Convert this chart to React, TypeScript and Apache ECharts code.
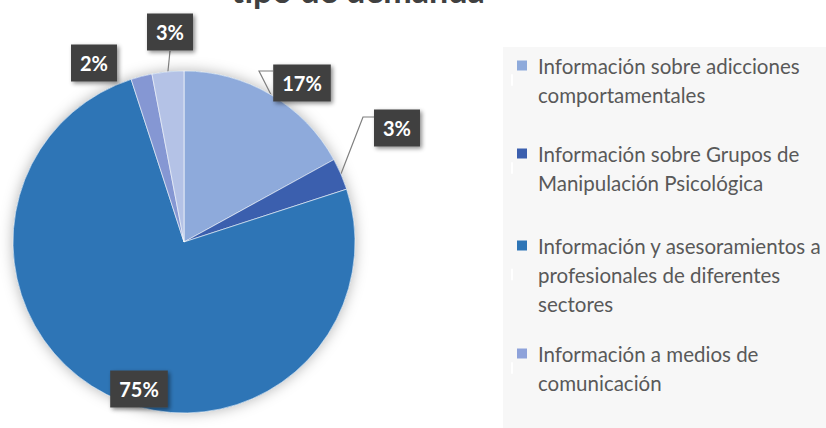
import React, { useEffect, useRef } from "react";
import * as echarts from "echarts";

const titleText = "tipo de demanda";
const categories = [
  "Información sobre adicciones comportamentales",
  "Información sobre Grupos de Manipulación Psicológica",
  "Información y asesoramientos a profesionales de diferentes sectores",
  "Información a medios de comunicación",
  "Otros",
];
const values = [17, 3, 75, 2, 3];
const legendLines = [
  ["Información sobre adicciones", "comportamentales"],
  ["Información sobre Grupos de", "Manipulación Psicológica"],
  ["Información y asesoramientos a", "profesionales de diferentes", "sectores"],
  ["Información a medios de", "comunicación"],
];
const sliceColors = ["#8eaadb", "#3b5fae", "#2e75b6", "#8597d3", "#b4c2e6"];
const legendColors = ["#8eaadb", "#3b5fae", "#2e75b6", "#8ea2da"];

// layout only: legend entry tops, label box centres, leader-line elbows
const legendTops = [55, 143, 235, 343];
const labelPos: [number, number][] = [
  [302, 83],
  [397, 128],
  [139, 389],
  [94, 63],
  [170, 32],
];
const leaderMid: ([number, number][] | null)[] = [
  [[259, 71], [273, 71]],
  [[363, 117], [374, 117]],
  null,
  null,
  [[170, 51]],
];

export default function App() {
  const ref = useRef<HTMLDivElement>(null);
  useEffect(() => {
    document.body.style.margin = "0";
    if (!ref.current) return;
    const chart = echarts.init(ref.current, null, { renderer: "svg" });
    const rich: any = {
      g: { width: 11, height: 10 },
      ind: { width: 21, height: 10 },
      t: { fontSize: 20.5, lineHeight: 29, color: "#595959", fontFamily: "Lato" },
    };
    legendColors.forEach((c, i) => {
      rich["m" + i] = { width: 10, height: 10, backgroundColor: c };
    });
    const legends = legendTops.map((top, li) => ({
      orient: "vertical",
      left: 511,
      top,
      padding: 0,
      itemWidth: 0,
      itemHeight: 10,
      selectedMode: false,
      data: [categories[li]],
      formatter: (name: string) => {
        const i = categories.indexOf(name);
        return legendLines[i]
          .map((l, k) => (k === 0 ? `{m${i}|}{g|}{t|${l}}` : `{ind|}{t|${l}}`))
          .join("\n");
      },
      textStyle: { rich },
    }));
    chart.setOption({
      animation: false,
      backgroundColor: "#ffffff",
      graphic: [
        {
          type: "rect",
          z: 0,
          shape: { x: 503, y: 47, width: 323, height: 381 },
          style: { fill: "#f7f7f7" },
        },
        {
          type: "text",
          x: 358,
          y: 6,
          style: {
            text: titleText,
            textAlign: "center",
            textVerticalAlign: "bottom",
            fontSize: 34,
            fontWeight: "bold",
            fontFamily: "Lato",
            fill: "#404040",
          },
        },
      ],
      legend: legends,
      series: [
        {
          type: "pie",
          silent: true,
          z: 1,
          center: [184, 242],
          radius: 171,
          label: { show: false },
          labelLine: { show: false },
          itemStyle: {
            color: "#2e75b6",
            shadowBlur: 14,
            shadowColor: "rgba(0,0,0,0.3)",
          },
          data: [{ value: 1, name: "_bg" }],
        },
        {
          type: "pie",
          z: 2,
          center: [184, 242],
          radius: 171,
          startAngle: 90,
          clockwise: true,
          avoidLabelOverlap: false,
          itemStyle: { borderColor: "#ffffff", borderWidth: 0.6 },
          label: {
            show: true,
            position: "outside",
            formatter: "{d}%",
            overflow: "none",
            color: "#ffffff",
            fontSize: 20,
            fontWeight: "bold",
            fontFamily: "Lato",
            backgroundColor: "#404040",
            padding: [9, 9, 8, 9],
            shadowColor: "rgba(0,0,0,0.45)",
            shadowBlur: 4,
            shadowOffsetX: 2,
            shadowOffsetY: 2,
          },
          labelLine: {
            show: true,
            lineStyle: { color: "#7f7f7f", width: 1.2 },
          },
          labelLayout: (p: any) => {
            const i = p.dataIndex;
            const mid = leaderMid[i];
            const res: any = {
              x: labelPos[i][0],
              y: labelPos[i][1],
              align: "center",
              verticalAlign: "middle",
            };
            if (mid && p.labelLinePoints) {
              res.labelLinePoints = [p.labelLinePoints[0], ...mid];
            }
            return res;
          },
          data: categories.map((n, i) => ({
            name: n,
            value: values[i],
            itemStyle: { color: sliceColors[i] },
            labelLine: { show: leaderMid[i] !== null },
          })),
        },
      ],
    });
    return () => chart.dispose();
  }, []);
  return <div ref={ref} style={{ width: 826, height: 428 }} />;
}
